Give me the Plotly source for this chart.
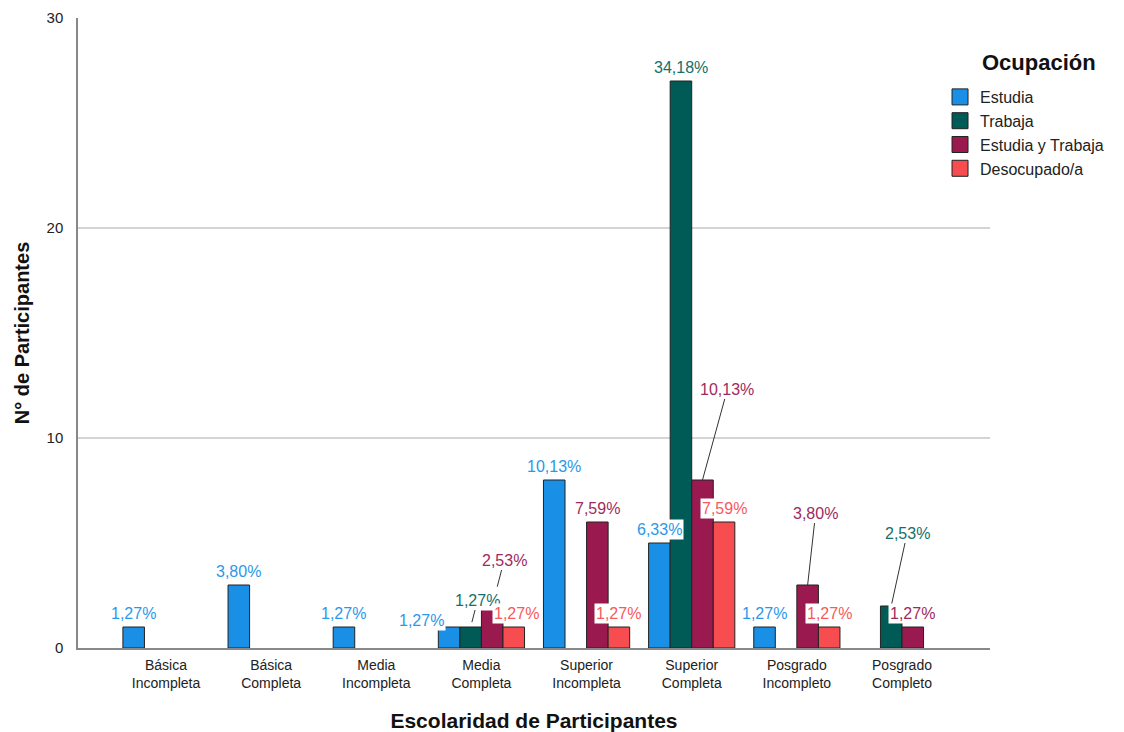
import plotly.graph_objects as go

# ---- data ----
categories = ["Básica Incompleta", "Básica Completa", "Media Incompleta", "Media Completa",
              "Superior Incompleta", "Superior Completa", "Posgrado Incompleto", "Posgrado Completo"]
tick_labels = ["Básica<br>Incompleta", "Básica<br>Completa", "Media<br>Incompleta", "Media<br>Completa",
               "Superior<br>Incompleta", "Superior<br>Completa", "Posgrado<br>Incompleto", "Posgrado<br>Completo"]
series_names = ["Estudia", "Trabaja", "Estudia y Trabaja", "Desocupado/a"]
estudia = [1, 3, 1, 1, 8, 5, 1, None]
trabaja = [None, None, None, 1, None, 27, None, 2]
estudia_y_trabaja = [None, None, None, 2, 6, 8, 3, 1]
desocupado = [None, None, None, 1, 1, 6, 1, None]
y_ticks = [0, 10, 20, 30]

series_values = [estudia, trabaja, estudia_y_trabaja, desocupado]
total = sum(v for s in series_values for v in s if v)

# ---- style ----
bar_colors = ["#1a8fe6", "#005a55", "#9a1a50", "#f84d50"]
label_colors = ["#2a98ea", "#16706a", "#a02a60", "#f65a5c"]
FONT = "Liberation Sans, Arial, sans-serif"
BARGAP = 0.18
bar_w = (1 - BARGAP) / 4

# label placement: (dx px, dy px (screen), leader line, standoff)
placement = {
    (3, 0): (-28, -7, False, 0),
    (3, 1): (7, -27, True, 5),
    (3, 2): (12, -46, True, 20),
    (3, 3): (3, -14, False, 0),
    (5, 2): (25, -91, True, 0),
    (6, 2): (8, -72, True, 0),
    (7, 1): (16, -73, True, 0),
}
default_place = (0, -14, False, 0)

fig = go.Figure()
for k, (name, vals) in enumerate(zip(series_names, series_values)):
    fig.add_trace(go.Bar(
        name=name, x=categories, y=vals, showlegend=False, legendgroup=name,
        marker=dict(color=bar_colors[k], line=dict(color="#222222", width=1)),
    ))
# legend entries with square swatches
for k, name in enumerate(series_names):
    fig.add_trace(go.Scatter(
        name=name, x=[None], y=[None], mode="markers", legendgroup=name,
        marker=dict(symbol="square", size=16, color=bar_colors[k],
                    line=dict(color="#222222", width=1)),
    ))

annotations = []
for k, vals in enumerate(series_values):
    for c, v in enumerate(vals):
        if not v:
            continue
        pct = f"{v / total * 100:.2f}".replace(".", ",") + "%"
        dx, dy, leader, standoff = placement.get((c, k), default_place)
        xpos = c + (k - 1.5) * bar_w
        common = dict(x=xpos, y=v, xref="x", yref="y", text=pct,
                      font=dict(family=FONT, size=16, color=label_colors[k]),
                      bgcolor="white", borderpad=1)
        if leader:
            annotations.append(dict(**common, showarrow=True, ax=dx, ay=dy,
                                    arrowhead=0, arrowwidth=1, arrowcolor="#333333",
                                    standoff=standoff))
        else:
            annotations.append(dict(**common, showarrow=False, xshift=dx, yshift=-dy))

# legend title
annotations.append(dict(
    x=1.0537, y=0.930, xref="paper", yref="paper", text="Ocupación", showarrow=False,
    xanchor="center", yanchor="middle",
    font=dict(family=FONT, size=22, color="#111111", weight="bold"),
))

fig.update_layout(
    width=1124, height=732,
    margin=dict(l=78, r=134, t=18, b=84, autoexpand=False),
    plot_bgcolor="white", paper_bgcolor="white",
    barmode="group", bargap=BARGAP, bargroupgap=0,
    font=dict(family=FONT, color="#222222"),
    annotations=annotations,
    legend=dict(
        x=0.9452, xanchor="left", y=0.9016, yanchor="top",
        bgcolor="rgba(0,0,0,0)",
        font=dict(family=FONT, size=16, color="#222222"),
        tracegroupgap=0, itemsizing="trace",
    ),
    xaxis=dict(
        type="category", range=[-0.837, 7.837], automargin=False,
        tickvals=categories, ticktext=tick_labels,
        tickfont=dict(family=FONT, size=14, color="#222222"),
        showline=True, linecolor="#888888", linewidth=1.5,
        showgrid=False, ticks="", ticklabelstandoff=3,
        title=dict(text="Escolaridad de Participantes", standoff=24,
                   font=dict(family=FONT, size=21, color="#111111", weight="bold")),
    ),
    yaxis=dict(
        range=[0, 30], tickvals=y_ticks, automargin=False,
        tickfont=dict(family=FONT, size=15, color="#222222"),
        showline=True, linecolor="#888888", linewidth=1.5,
        showgrid=True, gridcolor="#d4d4d4", gridwidth=1.5,
        zeroline=False, ticks="", ticklabelstandoff=10,
        title=dict(text="N° de Participantes", standoff=12,
                   font=dict(family=FONT, size=20, color="#111111", weight="bold")),
    ),
)

fig.write_html("out.html")
